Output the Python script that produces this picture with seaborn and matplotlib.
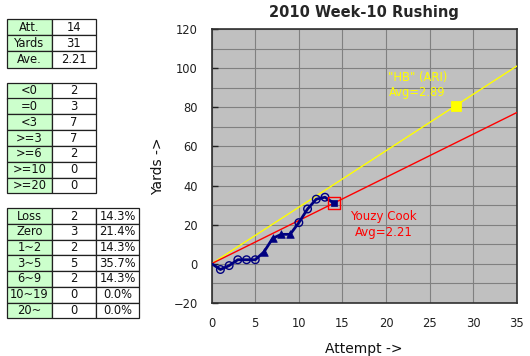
import numpy as np
import pandas as pd
import matplotlib
matplotlib.use("Agg")
import matplotlib.pyplot as plt
import seaborn as sns

# ---------------- data ----------------
attempts = list(range(0, 15))
cum_yards = [0, -3, -1, 2, 2, 2, 6, 13, 15, 15, 21, 28, 33, 34, 31]
marker_group = ["start", "o", "o", "o", "o", "o", "^", "^", "^", "^",
                "o", "o", "o", "o", "s"]

player_name = "Youzy Cook"
player_avg = 2.21
team_label = '"HB" (ARI)'
team_avg = 2.89
team_marker_x = 28
x_end = 35

summary_labels = ["Att.", "Yards", "Ave."]
summary_values = ["14", "31", "2.21"]

threshold_labels = ["<0", "=0", "<3", ">=3", ">=6", ">=10", ">=20"]
threshold_counts = [2, 3, 7, 7, 2, 0, 0]

range_labels = ["Loss", "Zero", "1~2", "3~5", "6~9", "10~19", "20~"]
range_counts = [2, 3, 2, 5, 2, 0, 0]
total_att = 14

x_ticks = [0, 5, 10, 15, 20, 25, 30, 35]
y_ticks = [-20, 0, 20, 40, 60, 80, 100, 120]

# ---------------- styling ----------------
sns.set_style("white")
plt.rcParams["font.family"] = ["DejaVu Sans"]

W, H = 530, 356
fig = plt.figure(figsize=(W / 100, H / 100), dpi=100)

NAVY = "#000080"
GRID = "#808080"

ax = fig.add_axes([211.7 / W, 1 - 302.7 / H, 305 / W, 273.4 / H])
ax.set_facecolor("#C0C0C0")

df = pd.DataFrame({"attempt": attempts, "yards": cum_yards, "grp": marker_group})

# average lines
sns.lineplot(x=[0, x_end], y=[0, team_avg * x_end], color="#FFFF00", lw=1, ax=ax, zorder=3)
sns.lineplot(x=[0, x_end], y=[0, player_avg * x_end], color="#FF0000", lw=1, ax=ax, zorder=3)

# cumulative yards line
sns.lineplot(data=df, x="attempt", y="yards", color=NAVY, lw=2, ax=ax, zorder=4)

circ = df[df.grp == "o"]
tri = df[df.grp == "^"]
sq = df[df.grp == "s"]
sns.scatterplot(data=circ, x="attempt", y="yards", marker="o", s=30,
                facecolor="none", edgecolor=NAVY, linewidth=1, ax=ax, zorder=5)
sns.scatterplot(data=tri, x="attempt", y="yards", marker="^", s=30,
                color=NAVY, edgecolor=NAVY, linewidth=0.5, ax=ax, zorder=5)
sns.scatterplot(data=sq, x="attempt", y="yards", marker="s", s=20,
                color=NAVY, edgecolor=NAVY, linewidth=0.5, ax=ax, zorder=5)
sns.scatterplot(data=sq, x="attempt", y="yards", marker="s", s=70,
                facecolor="none", edgecolor="#FF0000", linewidth=1, ax=ax, zorder=6)

# team marker
sns.scatterplot(x=[team_marker_x], y=[team_avg * team_marker_x], marker="s", s=50,
                color="#FFFF00", edgecolor="#FFFF00", ax=ax, zorder=6)

ax.text(23.6, 91.5, f"{team_label}\nAvg={team_avg:.2f}", color="#FFFF00",
        ha="center", va="center", fontsize=8.3, zorder=7)
ax.text(19.7, 20.2, f"{player_name}\nAvg={player_avg:.2f}", color="#FF0000",
        ha="center", va="center", fontsize=8.5, zorder=7, linespacing=1.3)

ax.set_xlim(0, x_end)
ax.set_ylim(-20, 120)
ax.set_xticks(x_ticks)
ax.set_yticks(y_ticks)
ax.set_yticks(np.arange(-10, 120, 20), minor=True)
ax.grid(True, which="major", color=GRID, lw=0.8, zorder=0)
ax.grid(True, which="minor", axis="y", color=GRID, lw=0.8, zorder=0)
ax.set_axisbelow(True)
ax.tick_params(axis="y", which="major", direction="in", length=4, width=1,
               pad=10, labelsize=8.3, colors="#202020", left=True)
ax.tick_params(axis="y", which="minor", length=0)
ax.tick_params(axis="x", direction="in", length=0, pad=10, labelsize=8.3,
               colors="#202020", bottom=True)
for s in ax.spines.values():
    s.set_visible(True)
    s.set_color("#303030")
    s.set_linewidth(1.2)

ax.set_xlabel("Attempt ->", fontsize=10, color="#101010")
ax.set_ylabel("Yards ->", fontsize=10, color="#101010")
ax.xaxis.set_label_coords(0.5, (302.7 - 341.7) / 273.4)
ax.yaxis.set_label_coords((165 - 211.7) / 305, 0.5)
ax.set_title("2010 Week-10 Rushing", fontsize=10.5, fontweight="bold", pad=9)

# ---------------- tables ----------------
tax = fig.add_axes([0, 0, 1, 1])
tax.set_axis_off()
GREEN = "#CCFFCC"


def make_table(rows, x0, y0, widths, row_h, aligns):
    ncols = len(rows[0])
    nrows = len(rows)
    total_w = sum(widths)
    colours = [[GREEN] + ["white"] * (ncols - 1) for _ in rows]
    tb = tax.table(cellText=rows, cellColours=colours, cellLoc="center",
                   bbox=[x0 / W, 1 - (y0 + nrows * row_h) / H, total_w / W, nrows * row_h / H],
                   colWidths=[w / total_w for w in widths])
    tb.auto_set_font_size(False)
    tb.set_fontsize(8.3)
    for (r, c), cell in tb.get_celld().items():
        cell.set_edgecolor("#202020")
        cell.set_linewidth(0.9)
        cell._loc = aligns[c]
        cell.PAD = 0.04
        cell.get_text().set_color("#101010")
    return tb


make_table([[a, b] for a, b in zip(summary_labels, summary_values)],
           7.3, 19, [44.4, 44], 16.2, ["center", "center"])
make_table([[a, str(b)] for a, b in zip(threshold_labels, threshold_counts)],
           7.3, 82.7, [44.4, 44], 15.8, ["center", "center"])
make_table([[a, str(b), f"{100 * b / total_att:.1f}%"] for a, b in zip(range_labels, range_counts)],
           7.3, 208.3, [44.4, 44, 43.6], 15.7, ["center", "center", "right"])

fig.savefig("out.png", dpi=100)
